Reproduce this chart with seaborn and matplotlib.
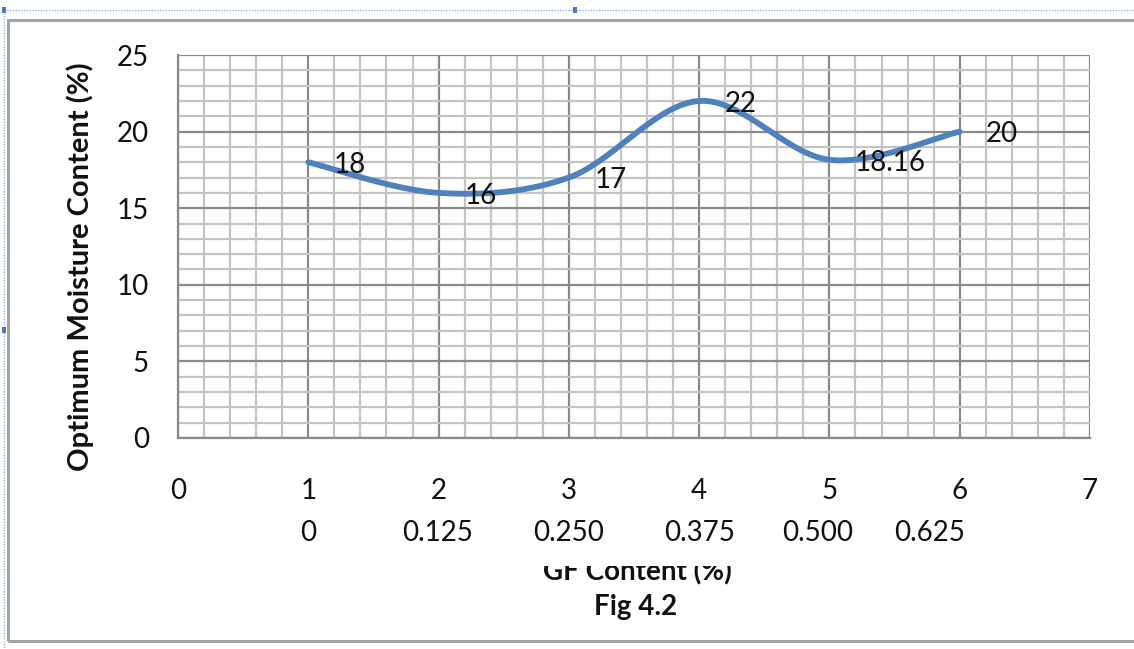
import numpy as np
import pandas as pd
import matplotlib
matplotlib.use("Agg")
import matplotlib.pyplot as plt
import matplotlib.transforms as mtransforms
from matplotlib.patches import Rectangle
import seaborn as sns

# Data
sample_no = [1, 2, 3, 4, 5, 6]
omc = [18, 16, 17, 22, 18.16, 20]
point_labels = ["18", "16", "17", "22", "18.16", "20"]
gf_content = ["0", "0.125", "0.250", "0.375", "0.500", "0.625"]
x_ticks = [0, 1, 2, 3, 4, 5, 6, 7]
y_ticks = [0, 5, 10, 15, 20, 25]

sns.set_style("white")
plt.rcParams["font.family"] = ["Lato", "DejaVu Sans"]

W, H = 1134, 649
fig = plt.figure(figsize=(W / 100, H / 100), dpi=100)


def fx(px):
    return px / W


def fy(py):
    return 1 - py / H


ax = fig.add_axes([fx(178), fy(438), fx(1090) - fx(178), fy(55) - fy(438)])


def smooth_curve(xs, ys, n=60):
    """Piecewise cubic Bezier through the points (spreadsheet-style smoothing)."""
    P = np.column_stack([xs, ys]).astype(float)
    out = []
    for i in range(len(P) - 1):
        p0 = P[i - 1] if i > 0 else P[i]
        p1, p2 = P[i], P[i + 1]
        p3 = P[i + 2] if i + 2 < len(P) else P[i + 1]
        c1 = p1 + (p2 - p0) / 6
        c2 = p2 - (p3 - p1) / 6
        t = np.linspace(0, 1, n)[:, None]
        seg = ((1 - t) ** 3) * p1 + 3 * ((1 - t) ** 2) * t * c1 + 3 * (1 - t) * t ** 2 * c2 + t ** 3 * p2
        out.append(seg if i == 0 else seg[1:])
    return np.vstack(out)


curve = smooth_curve(sample_no, omc)
df = pd.DataFrame({"x": curve[:, 0], "y": curve[:, 1]})
sns.lineplot(data=df, x="x", y="y", sort=False, estimator=None, ax=ax,
             color="#4F81BD", lw=4.2, solid_capstyle="round", zorder=5)

# Axes, grid
ax.set_xlim(0, 7)
ax.set_ylim(0, 25)
ax.set_xticks(x_ticks)
ax.set_yticks(y_ticks)
ax.set_xticks(np.arange(0, 7.001, 0.2), minor=True)
ax.set_yticks(np.arange(0, 25.001, 1), minor=True)
ax.grid(which="minor", color="#c4c4c4", lw=1.6, zorder=0)
ax.grid(which="major", color="#8a8a8a", lw=1.6, zorder=1)
ax.set_axisbelow(True)
for side in ["top", "right"]:
    ax.spines[side].set_visible(False)
for side in ["left", "bottom"]:
    ax.spines[side].set_color("#8a8a8a")
    ax.spines[side].set_linewidth(1.6)
ax.tick_params(which="minor", length=0)
ax.tick_params(axis="y", which="major", length=8, width=1.6, color="#8a8a8a",
               pad=13, labelsize=20, labelcolor="#111111")
ax.tick_params(axis="x", which="major", length=6, width=1.6, color="#8a8a8a",
               pad=23, labelsize=20, labelcolor="#111111")
ax.set_xlabel("")
ax.set_ylabel("")

# Point value labels
for xv, yv, lab in zip(sample_no, omc, point_labels):
    ax.annotate(lab, (xv, yv), xytext=(18.5, -2), textcoords="offset points",
                ha="left", va="center", fontsize=20, color="#111111", zorder=6)

# Second row of category labels (GF content)
gf_pos = [1.0, 1.99, 3.0, 4.0, 4.91, 5.77]
row_tr = mtransforms.blended_transform_factory(ax.transData, fig.transFigure)
for xv, lab in zip(gf_pos, gf_content):
    ax.text(xv, fy(533), lab, transform=row_tr, ha="center", va="center",
            fontsize=20, color="#111111")

# Axis titles
fig.text(fx(80), fy(267), "Optimum Moisture Content (%)", rotation=90,
         ha="center", va="center", fontsize=21, fontweight="bold", color="#111111",
         zorder=1)
fig.text(fx(637), fy(580), "GF Content (%)", ha="center", va="baseline",
         fontsize=20, fontweight="bold", color="#111111", zorder=1)
fig.patches.append(Rectangle((fx(450), fy(566)), fx(820) - fx(450), fy(548) - fy(566),
                             transform=fig.transFigure, facecolor="white",
                             edgecolor="none", zorder=3))
fig.text(fx(636), fy(607), "Fig 4.2", ha="center", va="center",
         fontsize=20, fontweight="bold", color="#111111", zorder=4)

# Chart frame and selection outline
fig.patches.append(Rectangle((fx(8), fy(641)), fx(1160) - fx(8), fy(20) - fy(641),
                             transform=fig.transFigure, facecolor="none",
                             edgecolor="#a3a3a3", lw=2.2, zorder=2))
fig.lines.append(plt.Line2D([fx(4), 1], [fy(10), fy(10)], transform=fig.transFigure,
                            color="#8fb4e3", lw=1, ls=(0, (1, 1))))
fig.lines.append(plt.Line2D([fx(4), fx(4)], [fy(10), 0], transform=fig.transFigure,
                            color="#8fb4e3", lw=1, ls=(0, (1, 1))))
for hx, hy in [(4, 10), (575, 10), (4, 330)]:
    fig.patches.append(Rectangle((fx(hx - 2), fy(hy + 3)), fx(4), fy(0) - fy(6),
                                 transform=fig.transFigure, facecolor="#4a7ab8",
                                 edgecolor="none", zorder=5))

fig.savefig("out.png", dpi=100)
